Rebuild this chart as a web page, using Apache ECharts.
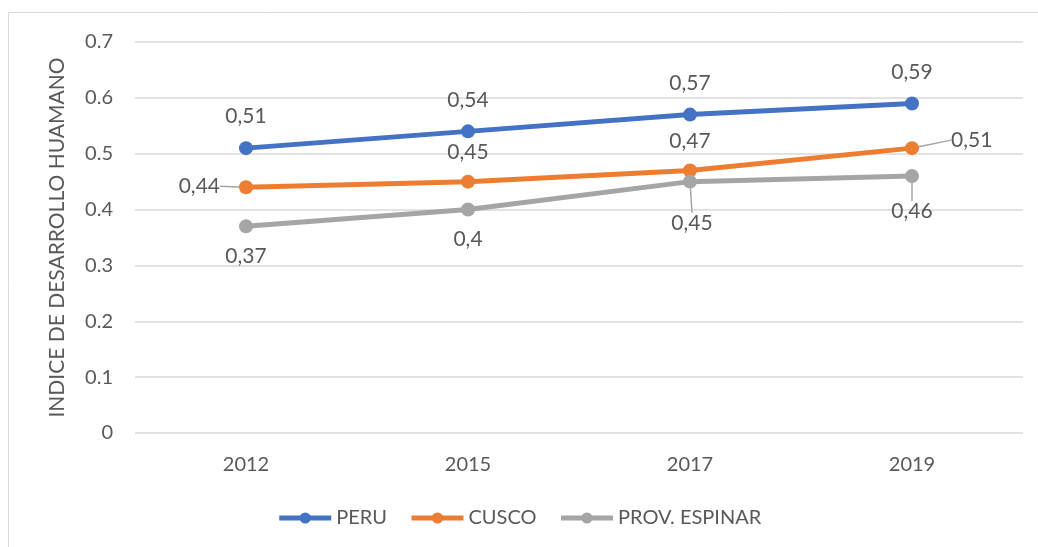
<!DOCTYPE html>
<html>
<head>
	<meta charset="utf-8">
	<title>Indice de desarrollo humano</title>
	<script src="https://cdn.jsdelivr.net/npm/echarts@6/dist/echarts.min.js"></script>
	<style>
		html, body { margin: 0; padding: 0; background: #fff; }
	</style>
</head>
<body>
	<div id="main" style="width: 1038px;height:547px;"></div>

	<script>
		// datos del grafico
		var years = ['2012', '2015', '2017', '2019'];
		var peru = [0.51, 0.54, 0.57, 0.59];
		var cusco = [0.44, 0.45, 0.47, 0.51];
		var espinar = [0.37, 0.40, 0.45, 0.46];
		var yTicks = [0, 0.1, 0.2, 0.3, 0.4, 0.5, 0.6, 0.7];

		var txt = '#595959';
		var fontFam = 'Lato, "Open Sans", sans-serif';

		// etiqueta con coma decimal
		function coma(p) {
			return String(p.value).replace('.', ',');
		}

		// posicion de cada etiqueta (como en el original)
		var cuscoPos = ['left', 'top', 'top', 'right'];
		var espPos = ['bottom', 'bottom', 'bottom', 'bottom'];
		// etiquetas movidas, con linea guia
		var moves = {
			'1-0': { dx: -7, dy: -1 },
			'1-3': { dx: 20, dy: -8 },
			'2-2': { dx: 2, dy: 12 },
			'2-3': { dx: 0, dy: 6 }
		};

		function items(vals, pos, s) {
			return vals.map(function (v, i) {
				return {
					value: v,
					label: { position: pos[i] },
					labelLine: { show: !!moves[s + '-' + i] }
				};
			});
		}

		var myChart = echarts.init(document.getElementById('main'));

		myChart.setOption({
			animation: false,
			textStyle: { fontFamily: fontFam },
			graphic: [{
				type: 'rect',
				shape: { x: 8.5, y: 12.5, width: 1100, height: 600 },
				style: { fill: null, stroke: '#d9d9d9', lineWidth: 1 },
				silent: true
			}],
			grid: { left: 135, right: 15, top: 42, bottom: 114 },
			legend: {
				bottom: 14,
				left: 'center',
				itemWidth: 52,
				itemHeight: 14,
				itemGap: 22,
				lineStyle: { width: 5 },
				textStyle: { color: txt, fontSize: 20, fontFamily: fontFam },
				data: ['PERU', 'CUSCO', 'PROV. ESPINAR']
			},
			xAxis: {
				type: 'category',
				data: years,
				boundaryGap: true,
				axisLine: { show: false },
				axisTick: { show: false },
				axisLabel: { color: txt, fontSize: 20, margin: 22 }
			},
			yAxis: {
				type: 'value',
				min: 0,
				max: 0.7,
				interval: 0.1,
				name: 'INDICE DE DESARROLLO HUAMANO',
				nameLocation: 'middle',
				nameGap: 67,
				nameTextStyle: { color: txt, fontSize: 21, fontFamily: fontFam },
				axisLabel: {
					color: txt, fontSize: 20, margin: 22,
					formatter: function (v) {
						var t = yTicks.filter(function (k) { return Math.abs(k - v) < 1e-9; });
						return t.length ? String(t[0]) : '';
					}
				},
				splitLine: { lineStyle: { color: '#d9d9d9', width: 1.5 } }
			},
			series: [{
				name: 'PERU',
				type: 'line',
				data: peru,
				color: '#4472C4',
				symbol: 'circle',
				symbolSize: 14,
				lineStyle: { width: 5, color: '#4472C4' },
				label: { show: true, position: 'top', distance: 14, color: txt, fontSize: 21, formatter: coma }
			}, {
				name: 'CUSCO',
				type: 'line',
				data: items(cusco, cuscoPos, 1),
				color: '#ED7D31',
				symbol: 'circle',
				symbolSize: 14,
				lineStyle: { width: 5, color: '#ED7D31' },
				label: { show: true, distance: 12, color: txt, fontSize: 21, formatter: coma },
				labelLine: { show: true, lineStyle: { color: '#a5a5a5', width: 1.5 } },
				labelLayout: function (p) {
					return moves['1-' + p.dataIndex] || {};
				}
			}, {
				name: 'PROV. ESPINAR',
				type: 'line',
				data: items(espinar, espPos, 2),
				color: '#A5A5A5',
				symbol: 'circle',
				symbolSize: 14,
				lineStyle: { width: 5, color: '#A5A5A5' },
				label: { show: true, distance: 12, color: txt, fontSize: 21, formatter: coma },
				labelLine: { show: true, lineStyle: { color: '#a5a5a5', width: 1.5 } },
				labelLayout: function (p) {
					return moves['2-' + p.dataIndex] || {};
				}
			}]
		});
	</script>
</body>
</html>
